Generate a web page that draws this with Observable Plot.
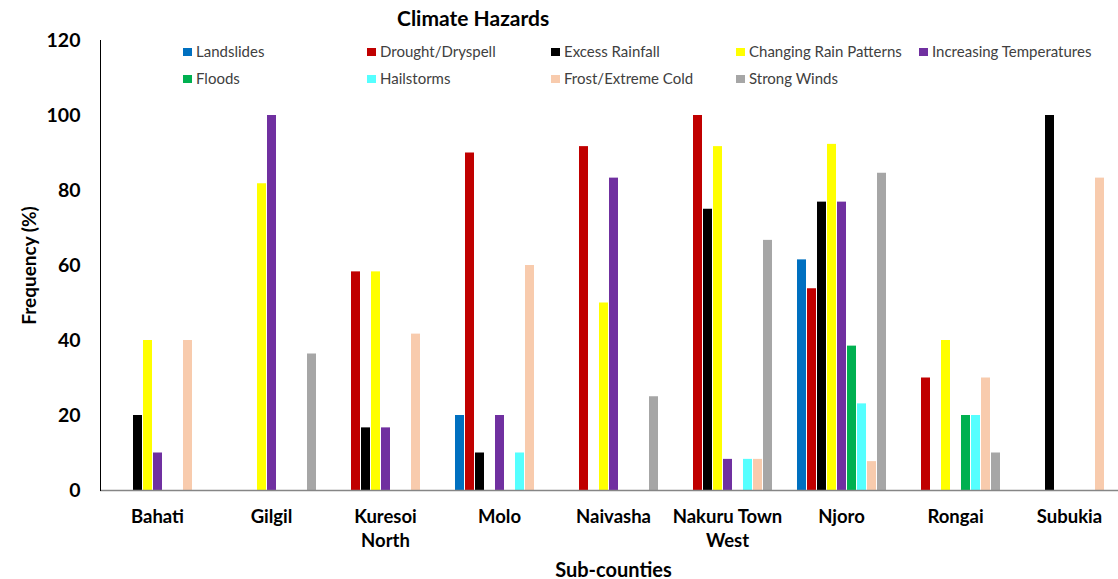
<!DOCTYPE html>
<html>
<head>
<meta charset="utf-8">
<script src="https://cdn.jsdelivr.net/npm/d3@7"></script>
<script src="https://cdn.jsdelivr.net/npm/@observablehq/plot@0.6"></script>
<style>
  html, body { margin: 0; padding: 0; background: #fff; }
  #wrap { position: relative; width: 1118px; height: 579px; overflow: hidden; font-family: Lato, "Open Sans", sans-serif; }
  #chart svg { max-width: none !important; }
  #title { position: absolute; left: 397px; top: 5px; font-size: 21px; line-height: 26px; font-weight: bold; color: #000; white-space: nowrap; }
  #legend { position: absolute; left: 0; top: 0; width: 1118px; height: 100px; }
  .item { position: absolute; font-size: 15px; color: #404040; white-space: nowrap; line-height: 18px; }
  .sw { display: inline-block; width: 9px; height: 8px; margin-right: 4px; vertical-align: 1px; }
</style>
</head>
<body>
<div id="wrap">
  <div id="chart"></div>
  <div id="title">Climate Hazards</div>
  <div id="legend"></div>
</div>
<script>
// Categories
const subCounties = ["Bahati", "Gilgil", "Kuresoi North", "Molo", "Naivasha", "Nakuru Town West", "Njoro", "Rongai", "Subukia"];
const tickLabels = ["Bahati", "Gilgil", "Kuresoi\nNorth", "Molo", "Naivasha", "Nakuru Town\nWest", "Njoro", "Rongai", "Subukia"];
const hazards = ["Landslides", "Drought/Dryspell", "Excess Rainfall", "Changing Rain Patterns", "Increasing Temperatures", "Floods", "Hailstorms", "Frost/Extreme Cold", "Strong Winds"];
const colors = ["#0070C0", "#C00000", "#000000", "#FFFF00", "#7030A0", "#00B050", "#55FFFF", "#F8CBAD", "#A6A6A6"];
const yTicks = [0, 20, 40, 60, 80, 100, 120];

// Series values (%), in subCounties order
const landslides     = [0, 0, 0, 20, 0, 0, 61.5, 0, 0];
const drought        = [0, 0, 58.3, 90, 91.7, 100, 53.8, 30, 0];
const excessRainfall = [20, 0, 16.7, 10, 0, 75, 76.9, 0, 100];
const changingRain   = [40, 81.8, 58.3, 0, 50, 91.7, 92.3, 40, 0];
const increasingTemp = [10, 100, 16.7, 20, 83.3, 8.3, 76.9, 0, 0];
const floods         = [0, 0, 0, 0, 0, 0, 38.5, 20, 0];
const hailstorms     = [0, 0, 0, 10, 0, 8.3, 23.1, 20, 0];
const frost          = [40, 0, 41.7, 60, 0, 8.3, 7.7, 30, 83.3];
const strongWinds    = [0, 36.4, 0, 0, 25, 66.7, 84.6, 10, 0];

const seriesValues = [landslides, drought, excessRainfall, changingRain, increasingTemp, floods, hailstorms, frost, strongWinds];

const rows = [];
hazards.forEach((h, i) => {
  subCounties.forEach((s, j) => {
    const v = seriesValues[i][j];
    if (v > 0) rows.push({sub: s, hazard: h, value: v});
  });
});

const plot = Plot.plot({
  width: 1128,
  height: 579,
  marginLeft: 97,
  marginRight: 0,
  marginTop: 40,
  marginBottom: 89,
  style: {fontFamily: "Lato, 'Open Sans', sans-serif", color: "#000", background: "#fff", maxWidth: "none"},
  fx: {domain: subCounties, padding: 0},
  x: {domain: hazards, paddingInner: 0.15, paddingOuter: 0.88, axis: null},
  y: {domain: [0, 120]},
  color: {domain: hazards, range: colors},
  marks: [
    Plot.barY(rows, {fx: "sub", x: "hazard", y: "value", fill: "hazard"}),
    Plot.ruleY([0], {stroke: "#868686", strokeWidth: 1.5}),
    Plot.frame({anchor: "left", facetAnchor: "left", stroke: "#000", strokeWidth: 1}),
    Plot.axisY({ticks: yTicks, tickSize: 0, tickPadding: 20, fontSize: 19.5, fontWeight: "bold", label: null}),
    Plot.axisY({ticks: [], label: "Frequency (%)", labelArrow: "none", labelAnchor: "center", labelOffset: 78, fontSize: 19, fontWeight: "bold"}),
    Plot.axisFx({anchor: "bottom", tickSize: 0, tickPadding: 15, fontSize: 18.5, fontWeight: "bold", lineHeight: 1.3,
      tickFormat: d => tickLabels[subCounties.indexOf(d)], label: null}),
    Plot.axisFx({anchor: "bottom", ticks: [], label: "Sub-counties", labelArrow: "none", labelAnchor: "center", labelOffset: 86, fontSize: 20, fontWeight: "bold"})
  ]
});
document.getElementById("chart").appendChild(plot);

// Legend (row-major, as in the reference)
const legendCols = [183, 367, 551, 736, 919];
const legendRows = [42, 69];
const legend = document.getElementById("legend");
hazards.forEach((h, i) => {
  const r = i < 5 ? 0 : 1;
  const c = i < 5 ? i : i - 5;
  const div = document.createElement("div");
  div.className = "item";
  div.style.left = legendCols[c] + "px";
  div.style.top = legendRows[r] + "px";
  const sw = document.createElement("span");
  sw.className = "sw";
  sw.style.background = colors[i];
  div.appendChild(sw);
  div.appendChild(document.createTextNode(h));
  legend.appendChild(div);
});
</script>
</body>
</html>
